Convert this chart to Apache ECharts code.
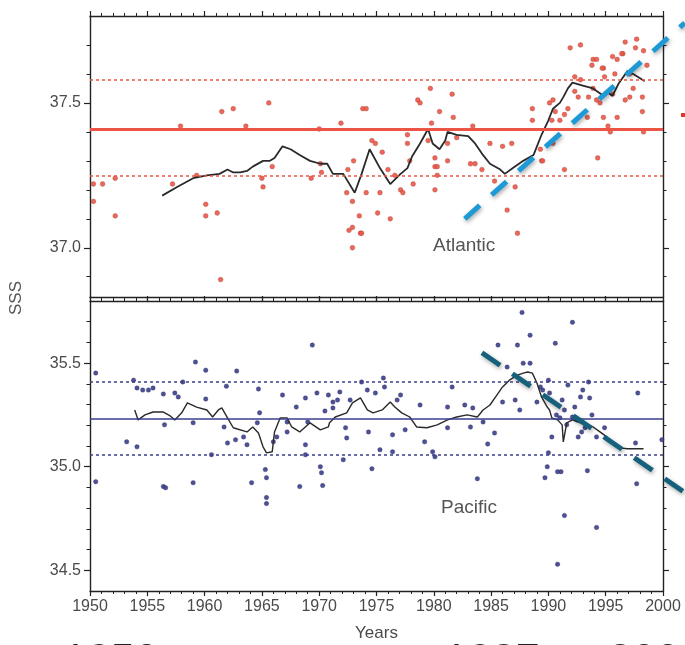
<!DOCTYPE html>
<html>
<head>
<meta charset="utf-8">
<script src="https://cdn.jsdelivr.net/npm/echarts@6/dist/echarts.min.js"></script>
<style>
html,body{margin:0;padding:0;background:#fff;}
#chart{width:685px;height:645px;}
</style>
</head>
<body>
<div id="chart"></div>
<script>
// ---------- data ----------
const xTicks = [1950, 1955, 1960, 1965, 1970, 1975, 1980, 1985, 1990, 1995, 2000];
const atlanticLabels = [37.0, 37.5];
const atlanticMinor = [36.9, 37.1, 37.2, 37.3, 37.4, 37.6, 37.7];
const pacificLabels = [34.5, 35.0, 35.5];
const pacificMinor = [34.6, 34.7, 34.8, 34.9, 35.1, 35.2, 35.3, 35.4, 35.6, 35.7];

const atlanticMean = 37.415;
const atlanticUpper = 37.58;
const atlanticLower = 37.25;
const pacificMean = 35.235;
const pacificUpper = 35.41;
const pacificLower = 35.06;

const atlanticPoints = [
  [1950.3,37.22],[1951.1,37.22],[1952.2,37.24],[1950.3,37.16],[1952.2,37.11],[1957.2,37.22],[1957.9,37.42],
  [1959.3,37.25],[1960.1,37.15],[1960.1,37.11],[1961.1,37.12],[1961.5,37.47],[1962.5,37.48],[1961.4,36.89],
  [1963.6,37.42],[1965.0,37.24],[1965.1,37.21],[1965.6,37.50],[1965.9,37.28],[1969.3,37.24],[1970.0,37.41],
  [1970.1,37.29],[1970.2,37.26],[1971.9,37.43],[1972.4,37.19],[1972.6,37.06],[1972.9,37.16],[1972.9,37.00],
  [1972.9,37.07],[1973.6,37.05],[1973.5,37.11],[1974.1,37.19],[1973.8,37.48],[1974.1,37.48],[1974.6,37.37],
  [1974.9,37.36],[1975.1,37.12],[1975.3,37.19],[1976.2,37.10],[1977.1,37.20],[1977.3,37.19],[1977.7,37.39],
  [1978.2,37.22],[1978.6,37.51],[1978.8,37.50],[1979.7,37.55],[1979.5,37.37],[1980.1,37.28],[1980.3,37.25],
  [1980.1,37.20],[1981.2,37.30],[1981.6,37.53],[1981.7,37.45],[1981.2,37.36],[1983.2,37.29],[1983.6,37.29],
  [1983.4,37.42],[1984.9,37.36],[1985.3,37.23],[1986.0,37.35],[1986.8,37.36],[1986.4,37.13],[1987.3,37.05],
  [1987.1,37.21],[1988.6,37.48],[1988.6,37.44],[1989.4,37.30],[1990.4,37.51],[1991.9,37.69],[1992.8,37.70],
  [1992.3,37.54],[1991.4,37.46],[1990.4,37.36],[1994.3,37.31],[1993.4,37.45],[1995.4,37.40],[1996.0,37.45],
  [1996.7,37.71],[1997.7,37.72],[1998.3,37.68],[1998.2,37.52],[1998.3,37.40],[1998.2,37.47],[1993.9,37.65],
  [1994.8,37.62],[1996.0,37.65],[1996.5,37.67],[1997.1,37.60],[1997.4,37.55],[1994.5,37.50],[1994.8,37.45],
  [1993.9,37.55],[1992.8,37.58],[1992.3,37.59],[1993.5,37.52],[1995.6,37.53],[1996.7,37.51],[1997.1,37.52],
  [1990.1,37.50],[1990.6,37.47],[1990.3,37.44],[1991.0,37.44],[1991.7,37.48],[1992.6,37.52],[1994.2,37.51],
  [1993.8,37.63],[1994.2,37.65],[1994.7,37.62],[1994.9,37.59],[1995.6,37.66],[1996.4,37.67],[1997.6,37.69],
  [1998.6,37.63],[1995.8,37.60],[1995.2,37.42],[1989.3,37.34],[1989.5,37.30],[1991.4,37.27],
  [1972.5,37.27],[1973.0,37.30],[1973.7,37.05],[1975.5,37.33],[1976.0,37.27],[1976.6,37.25],[1977.7,37.36],
  [1977.9,37.30],[1979.8,37.43],[1980.1,37.31],[1980.3,37.28],[1980.5,37.47],[1982.0,37.38],[1984.2,37.27]
];

const atlanticRunning = [
  [1956.3,37.18],[1957.6,37.21],[1959.0,37.24],[1960.2,37.25],[1961.3,37.255],[1962.0,37.27],[1962.5,37.26],
  [1963.1,37.26],[1963.7,37.265],[1964.2,37.28],[1965.1,37.30],[1965.7,37.30],[1966.1,37.31],[1966.8,37.35],
  [1967.5,37.34],[1968.3,37.32],[1969.2,37.30],[1970.1,37.29],[1970.7,37.29],[1971.2,37.255],[1972.1,37.255],
  [1973.1,37.19],[1973.7,37.255],[1974.4,37.34],[1975.3,37.275],[1976.2,37.22],[1977.1,37.255],[1977.7,37.275],
  [1978.1,37.315],[1978.8,37.36],[1979.5,37.41],[1979.9,37.36],[1980.5,37.34],[1981.0,37.37],[1981.2,37.40],
  [1982.0,37.39],[1983.0,37.385],[1983.6,37.36],[1984.2,37.325],[1984.9,37.29],[1985.8,37.27],[1986.2,37.255],
  [1986.9,37.275],[1987.8,37.30],[1988.7,37.32],[1989.4,37.39],[1990.0,37.44],[1990.4,37.48],[1991.0,37.50],
  [1991.3,37.52],[1991.7,37.55],[1992.1,37.57],[1993.0,37.56],[1993.9,37.55],[1994.8,37.525],[1995.2,37.535],
  [1995.6,37.525],[1996.1,37.565],[1996.9,37.61],[1997.4,37.60],[1998.0,37.585],[1998.4,37.575]
];

const pacificPoints = [
  [1950.5,35.452],[1950.5,34.928],[1953.2,35.12],[1954.1,35.096],[1953.8,35.418],[1954.1,35.38],[1954.6,35.37],
  [1955.1,35.37],[1955.5,35.38],[1956.4,35.351],[1956.4,34.904],[1956.6,34.899],[1956.5,35.202],[1957.4,35.356],
  [1957.7,35.337],[1958.1,35.409],[1959.2,35.505],[1959.0,34.923],[1959.0,35.212],[1960.1,35.466],[1960.1,35.327],
  [1960.6,35.058],[1961.9,35.389],[1962.8,35.462],[1961.7,35.192],[1962.0,35.115],[1962.7,35.13],[1963.4,35.144],
  [1963.7,35.106],[1964.1,34.923],[1964.7,35.375],[1964.8,35.26],[1964.6,35.212],[1965.3,34.986],[1965.4,34.947],
  [1965.4,34.851],[1965.4,34.822],[1966.0,35.12],[1966.3,35.144],[1966.8,35.346],[1967.2,35.216],[1967.2,35.168],
  [1968.0,35.288],[1968.3,34.904],[1968.8,35.332],[1968.8,35.106],[1968.8,35.058],[1969.0,35.216],[1969.4,35.587],
  [1969.8,35.356],[1970.1,35.0],[1970.2,34.971],[1970.3,34.909],[1970.5,35.269],[1970.8,35.346],[1971.2,35.312],
  [1971.8,35.361],[1972.1,35.034],[1972.4,35.139],[1971.2,35.284],[1971.6,35.322],[1972.3,35.188],[1972.7,35.322],
  [1973.7,35.409],[1974.2,35.37],[1974.9,35.356],[1974.6,34.99],[1974.3,35.168],[1975.3,35.082],[1975.6,35.428],
  [1975.7,35.385],[1976.4,35.072],[1976.4,35.154],[1976.8,35.322],[1977.1,35.346],[1977.5,35.178],[1978.8,35.298],
  [1979.2,35.12],[1979.9,35.072],[1980.1,35.048],[1981.2,35.288],[1981.6,35.385],[1981.2,35.188],[1982.7,35.298],
  [1983.2,35.192],[1983.4,35.284],[1983.8,34.942],[1984.3,35.216],[1984.7,35.11],[1985.3,35.163],[1985.6,35.587],
  [1987.3,35.587],[1988.4,35.635],[1987.7,35.745],[1992.1,35.697],[1990.6,35.596],[1987.8,35.5],[1988.4,35.5],
  [1986.4,35.481],[1990.0,35.418],[1991.7,35.394],[1993.0,35.37],[1993.5,35.409],[1992.8,35.337],[1993.6,35.332],
  [1989.5,35.37],[1990.1,35.356],[1989.3,35.385],[1989.0,35.312],[1987.1,35.322],[1986.0,35.312],[1987.5,35.274],
  [1991.2,35.322],[1992.3,35.288],[1991.4,35.274],[1993.8,35.25],[1990.3,35.144],[1992.1,35.24],[1992.9,35.168],
  [1992.6,35.144],[1994.2,35.144],[1994.9,35.188],[1990.0,35.067],[1989.9,35.0],[1990.8,34.976],[1989.7,34.947],
  [1993.4,34.981],[1997.8,35.356],[1997.6,35.115],[1997.7,34.918],[1999.9,35.13],[1991.4,34.764],[1994.2,34.707],
  [1990.8,34.529],[1991.1,34.976],[1991.0,35.236],[1990.7,35.25],[1991.6,35.202],[1992.5,35.226],[1993.2,35.188]
];

const pacificRunning = [
  [1953.9,35.274],[1954.2,35.226],[1954.8,35.25],[1955.5,35.264],[1956.4,35.264],[1957.0,35.245],[1957.4,35.226],
  [1958.0,35.26],[1958.5,35.308],[1959.3,35.288],[1960.2,35.274],[1960.7,35.24],[1961.2,35.274],[1961.5,35.284],
  [1962.0,35.236],[1962.5,35.188],[1963.7,35.168],[1964.2,35.192],[1964.7,35.163],[1965.1,35.096],[1965.4,35.067],
  [1965.9,35.072],[1966.1,35.168],[1966.6,35.236],[1967.2,35.236],[1967.6,35.192],[1968.3,35.168],[1969.2,35.212],
  [1970.1,35.178],[1970.8,35.192],[1970.9,35.212],[1971.4,35.24],[1972.4,35.26],[1972.9,35.308],[1973.6,35.332],
  [1974.2,35.274],[1974.7,35.26],[1975.5,35.274],[1976.2,35.312],[1976.6,35.288],[1977.2,35.26],[1977.9,35.24],
  [1978.5,35.192],[1979.4,35.188],[1980.3,35.202],[1981.2,35.226],[1982.0,35.24],[1982.9,35.25],[1983.8,35.24],
  [1984.3,35.274],[1984.9,35.298],[1985.5,35.346],[1986.0,35.385],[1986.6,35.418],[1987.3,35.442],[1987.8,35.452],
  [1988.2,35.457],[1988.6,35.452],[1989.0,35.404],[1989.4,35.337],[1989.9,35.288],[1990.1,35.274],[1990.3,35.236],
  [1990.8,35.226],[1991.2,35.202],[1991.3,35.12],[1991.6,35.212],[1992.1,35.226],[1992.8,35.212],[1993.4,35.202],
  [1993.9,35.192],[1994.5,35.168],[1995.1,35.144],[1995.6,35.115],[1996.2,35.091],[1996.9,35.087],[1998.3,35.087]
];

// annotation trend lines (year, SSS) — extend past the frame
const atlanticTrend = [[1982.7,37.10],[2001.9,37.776]];
const pacificTrend = [[1984.2,35.55],[2001.9,34.875]];

// ---------- chart ----------
const chart = echarts.init(document.getElementById('chart'), null, {renderer:'canvas'});
const FONT = 'Liberation Sans, Arial, sans-serif';
const LABEL_COLOR = '#4a4a4a';
const AXIS_COLOR = '#222';

function xAx(grid, pos, labels) {
  return {
    type:'value', gridIndex:grid, position:pos, min:1950, max:2000, interval:5,
    axisLine:{show:true, onZero:false, lineStyle:{color:AXIS_COLOR, width:1.4}},
    axisTick:{show:true, inside:false, length:5, lineStyle:{color:AXIS_COLOR, width:1.2}},
    minorTick:{show:true, splitNumber:5, length:3, lineStyle:{color:AXIS_COLOR, width:1}},
    splitLine:{show:false}, minorSplitLine:{show:false},
    axisLabel:{show:labels, fontSize:16, color:LABEL_COLOR, fontFamily:FONT, margin:8,
      customValues: xTicks, formatter: v => String(v)},
    name: labels ? 'Years' : '', nameLocation:'middle', nameGap:34,
    nameTextStyle:{fontSize:17, color:LABEL_COLOR, fontFamily:FONT}
  };
}
function yMajor(grid, pos, min, max, vals, labels) {
  return {
    type:'value', gridIndex:grid, position:pos, min:min, max:max,
    axisLine:{show:true, onZero:false, lineStyle:{color:AXIS_COLOR, width:1.4}},
    axisTick:{show:true, inside:false, length:6, customValues: vals, lineStyle:{color:AXIS_COLOR, width:1.2}},
    splitLine:{show:false},
    axisLabel:{show:labels, customValues: vals, fontSize:16, color:LABEL_COLOR, fontFamily:FONT, margin:9,
      formatter: v => Number(v).toFixed(1)}
  };
}
function yMinor(grid, pos, min, max, vals) {
  return {
    type:'value', gridIndex:grid, position:pos, min:min, max:max,
    axisLine:{show:false},
    axisTick:{show:true, inside:false, length:3.5, customValues: vals, lineStyle:{color:AXIS_COLOR, width:1}},
    splitLine:{show:false},
    axisLabel:{show:false, customValues: vals}
  };
}

const ATL_MIN = 36.83, ATL_MAX = 37.8;
const PAC_MIN = 34.4, PAC_MAX = 35.8;
const RED = '#ec5545';
const NAVY = '#3b3e8c';

function refLines(mean, up, low, color, meanWidth) {
  return {
    silent:true, symbol:['none','none'], label:{show:false}, animation:false,
    data:[
      {yAxis:mean, lineStyle:{color:color, width:meanWidth, type:'solid'}},
      {yAxis:up, lineStyle:{color:color, width:1.5, type:[3,3]}},
      {yAxis:low, lineStyle:{color:color, width:1.5, type:[3,3]}}
    ]
  };
}

const option = {
  animation:false,
  backgroundColor:'#ffffff',
  grid:[
    {left:90, right:22, top:16, height:281},
    {left:90, right:22, top:301, height:290}
  ],
  xAxis:[ xAx(0,'bottom',false), xAx(0,'top',false), xAx(1,'bottom',true), xAx(1,'top',false) ],
  yAxis:[
    yMajor(0,'left',ATL_MIN,ATL_MAX,atlanticLabels,true),
    yMinor(0,'left',ATL_MIN,ATL_MAX,atlanticMinor),
    yMajor(0,'right',ATL_MIN,ATL_MAX,atlanticLabels,false),
    yMinor(0,'right',ATL_MIN,ATL_MAX,atlanticMinor),
    yMajor(1,'left',PAC_MIN,PAC_MAX,pacificLabels,true),
    yMinor(1,'left',PAC_MIN,PAC_MAX,pacificMinor),
    yMajor(1,'right',PAC_MIN,PAC_MAX,pacificLabels,false),
    yMinor(1,'right',PAC_MIN,PAC_MAX,pacificMinor)
  ],
  series:[
    {
      type:'scatter', name:'Atlantic', xAxisIndex:0, yAxisIndex:0, data:atlanticPoints,
      symbolSize:4.8, itemStyle:{color:RED, opacity:0.9, borderColor:'rgba(150,60,50,0.6)', borderWidth:0.6},
      markLine: refLines(atlanticMean, atlanticUpper, atlanticLower, RED, 3), z:3
    },
    {
      type:'line', xAxisIndex:0, yAxisIndex:0, data:atlanticRunning, showSymbol:false,
      lineStyle:{color:'#2a2a2a', width:1.8}, z:4
    },
    {
      type:'scatter', name:'Pacific', xAxisIndex:2, yAxisIndex:4, data:pacificPoints,
      symbolSize:4.5, itemStyle:{color:NAVY, opacity:0.9, borderColor:'rgba(40,40,90,0.6)', borderWidth:0.6},
      markLine: refLines(pacificMean, pacificUpper, pacificLower, NAVY, 1.6), z:3
    },
    {
      type:'line', xAxisIndex:2, yAxisIndex:4, data:pacificRunning, showSymbol:false,
      lineStyle:{color:'#2a2a2a', width:1.4}, z:4
    }
  ],
  graphic:[
    {type:'text', left:433, top:236, style:{text:'Atlantic', fontSize:19, fill:'#555', fontFamily:FONT}, z:20},
    {type:'text', left:441, top:498, style:{text:'Pacific', fontSize:19, fill:'#555', fontFamily:FONT}, z:20},
    {type:'text', x:16, y:298, rotation:Math.PI/2,
      style:{text:'SSS', fontSize:17, fill:'#555', fontFamily:FONT, align:'center', verticalAlign:'middle'}, z:20},
    {type:'rect', shape:{x:681, y:113, width:4, height:4}, style:{fill:'#e8322a'}, z:20},
    {type:'text', x:63, y:661, style:{text:'1950', fontSize:43, fill:'#222', fontFamily:FONT, verticalAlign:'middle'}, z:20},
    {type:'text', x:444, y:661, style:{text:'1987 –', fontSize:43, fill:'#222', fontFamily:FONT, verticalAlign:'middle'}, z:20},
    {type:'text', x:608, y:661, style:{text:'2000', fontSize:43, fill:'#222', fontFamily:FONT, verticalAlign:'middle'}, z:20}
  ]
};
chart.setOption(option);

// trend annotations: positioned through the axes' own scales (extending past the frame)
function trendGraphic(id, pts, finder, color, dash) {
  const a = chart.convertToPixel(finder, pts[0]);
  const b = chart.convertToPixel(finder, pts[1]);
  return {
    type:'line', id:id, z:30, silent:true,
    shape:{x1:a[0], y1:a[1], x2:b[0], y2:b[1]},
    style:{stroke:color, lineWidth:5, lineDash:dash, lineCap:'butt',
      shadowColor:'rgba(0,0,0,0.35)', shadowBlur:4, shadowOffsetX:1, shadowOffsetY:2}
  };
}
chart.setOption({
  graphic:[
    trendGraphic('atlTrend', atlanticTrend, {xAxisIndex:0, yAxisIndex:0}, '#1d9ad6', [20,16]),
    trendGraphic('pacTrend', pacificTrend, {xAxisIndex:2, yAxisIndex:4}, '#15607b', [22,15])
  ]
});
</script>
</body>
</html>
